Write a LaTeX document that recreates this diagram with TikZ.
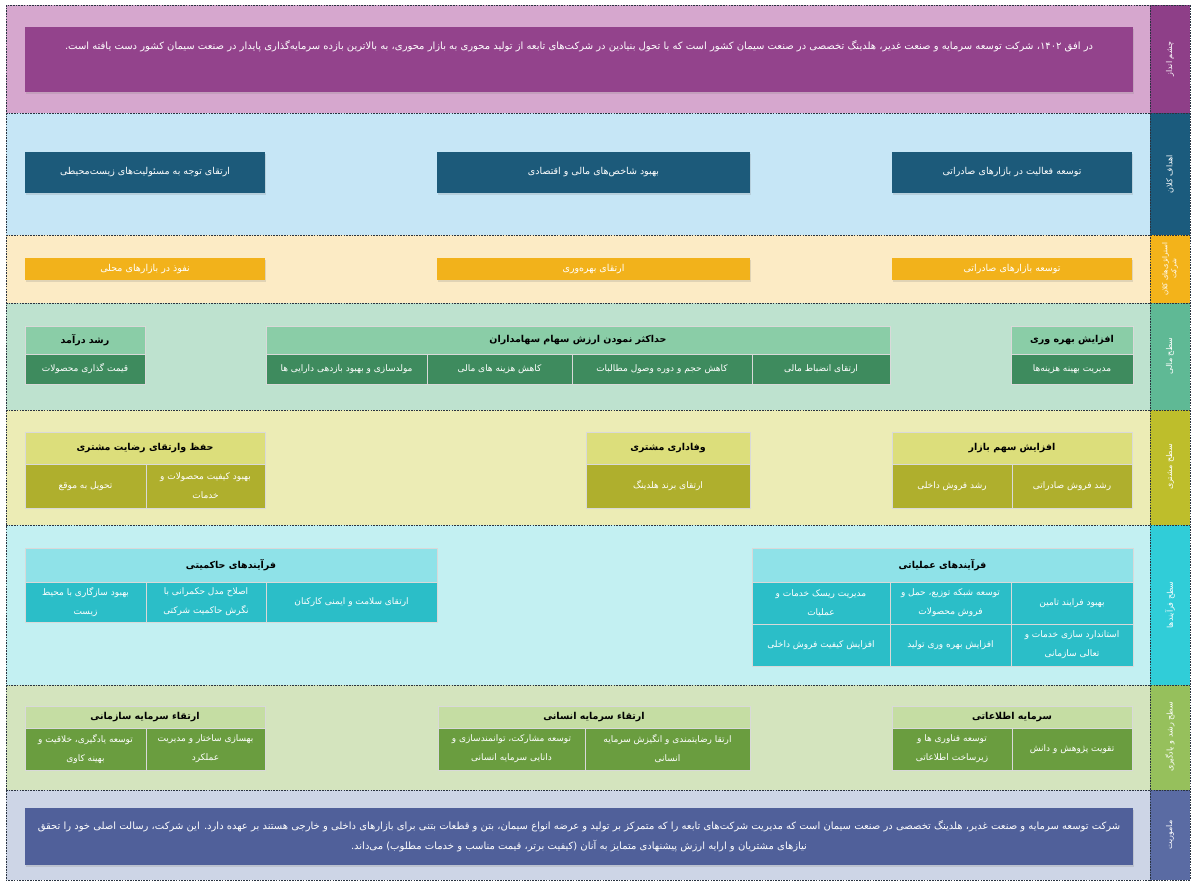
\documentclass[tikz,border=0pt]{standalone}
\usepackage{fontspec}
\usetikzlibrary{shadows}
\TeXXeTstate=1
\newfontfamily\fa[Script=Arabic]{DejaVu Sans}
\newcommand\pr[1]{\beginR #1\endR}
\definecolor{aBg}{HTML}{D6A7CE}\definecolor{aLb}{HTML}{8E3F88}\definecolor{aBx}{HTML}{93438C}
\definecolor{bBg}{HTML}{C6E6F6}\definecolor{bLb}{HTML}{1B5B7D}\definecolor{bBx}{HTML}{1C5A7A}
\definecolor{cBg}{HTML}{FCEBC5}\definecolor{cLb}{HTML}{F3B31A}\definecolor{cBx}{HTML}{F2B21B}
\definecolor{dBg}{HTML}{BEE2CF}\definecolor{dLb}{HTML}{5FB995}\definecolor{dHd}{HTML}{8ACDA7}\definecolor{dBx}{HTML}{3E8B5E}
\definecolor{eBg}{HTML}{ECECB5}\definecolor{eLb}{HTML}{BEBE2B}\definecolor{eHd}{HTML}{DCDE7B}\definecolor{eBx}{HTML}{AFAF2D}
\definecolor{fBg}{HTML}{C3F0F2}\definecolor{fLb}{HTML}{30CDD8}\definecolor{fHd}{HTML}{8FE2E8}\definecolor{fBx}{HTML}{2BBEC8}
\definecolor{gBg}{HTML}{D4E4BE}\definecolor{gLb}{HTML}{96C05C}\definecolor{gHd}{HTML}{C5DDA3}\definecolor{gBx}{HTML}{6A9D3F}
\definecolor{hBg}{HTML}{CDD5E6}\definecolor{hLb}{HTML}{5A6BA3}\definecolor{hBx}{HTML}{50609A}
\definecolor{dashc}{HTML}{2A3340}
\newcommand\bx[7]{\node[#6, minimum width={(#4-#2)*1pt}, minimum height={(#5-#3)*1pt}] (#1) at ({(#2+#4)/2},{(#3+#5)/2}) {#7};}
\begin{document}
\begin{tikzpicture}[x=1pt,y=-1pt,
  softshadow/.style={drop shadow={opacity=0.22, shadow xshift=0.8pt, shadow yshift=-1.6pt}},
  cellbox/.style={draw=white!85!black, line width=0.6pt, inner sep=1pt, align=center, text=white,
    font=\fa\fontsize{9}{19}\selectfont},
  goalbox/.style={cellbox, draw=none, softshadow, font=\fa\fontsize{9.5}{19}\selectfont},
  hdrbox/.style={cellbox, text=black, font=\fa\bfseries\fontsize{9.5}{19}\selectfont},
  bigbox/.style={draw=none, softshadow, inner sep=2pt, align=center, text=white, font=\fa\fontsize{10}{20}\selectfont},
  lbl/.style={rotate=90, text=white, align=center, font=\fa\fontsize{8}{10}\selectfont, inner sep=0pt},
  dsh/.style={draw=dashc, line width=0.7pt, dash pattern=on 1.6pt off 1.1pt}]
\useasboundingbox (0,0) rectangle (1193,884);
% bands
\fill[aBg] (6,5) rectangle (1150,113);   \fill[aLb] (1150,5) rectangle (1190,113);
\fill[bBg] (6,113) rectangle (1150,235); \fill[bLb] (1150,113) rectangle (1190,235);
\fill[cBg] (6,235) rectangle (1150,303); \fill[cLb] (1150,235) rectangle (1190,303);
\fill[dBg] (6,303) rectangle (1150,410); \fill[dLb] (1150,303) rectangle (1190,410);
\fill[eBg] (6,410) rectangle (1150,525); \fill[eLb] (1150,410) rectangle (1190,525);
\fill[fBg] (6,525) rectangle (1150,685); \fill[fLb] (1150,525) rectangle (1190,685);
\fill[gBg] (6,685) rectangle (1150,790); \fill[gLb] (1150,685) rectangle (1190,790);
\fill[hBg] (6,790) rectangle (1150,880); \fill[hLb] (1150,790) rectangle (1190,880);
% dashed lines
\foreach \yy in {113,235,303,410,525,685,790} \draw[dsh] (6,\yy) -- (1190,\yy);
\draw[dsh] (6,5) rectangle (1190,880);
\draw[dsh] (1150,5) -- (1150,880);
% side labels
\node[lbl] (L1) at (1170,59) {\pr{چشم انداز}};
\node[lbl] (L2) at (1170,174) {\pr{اهداف کلان}};
\node[lbl, font=\fa\fontsize{7}{9}\selectfont] (L3) at (1170,269) {\pr{استراتژی‌های کلان}\\\pr{شرکت}};
\node[lbl] (L4) at (1170,356) {\pr{سطح مالی}};
\node[lbl] (L5) at (1170,467) {\pr{سطح مشتری}};
\node[lbl] (L6) at (1170,605) {\pr{سطح فرآیندها}};
\node[lbl] (L7) at (1170,737) {\pr{سطح رشد و یادگیری}};
\node[lbl] (L8) at (1170,835) {\pr{ماموریت}};
% vision (text sits in the upper part of the box)
\node[bigbox, fill=aBx, minimum width=1108pt, inner ysep=0pt, text height=22pt, text depth=43pt, anchor=north] (vis) at (579,27) {\pr{در افق ۱۴۰۲، شرکت توسعه سرمایه و صنعت غدیر، هلدینگ تخصصی در صنعت سیمان کشور است که با تحول بنیادین در شرکت‌های تابعه از تولید محوری به بازار محوری، به بالاترین بازده سرمایه‌گذاری پایدار در صنعت سیمان کشور دست یافته است.}};
% macro goals
\bx{g1}{892}{152}{1132}{193}{goalbox,fill=bBx}{\pr{توسعه فعالیت در بازارهای صادراتی}}
\bx{g2}{437}{152}{750}{193}{goalbox,fill=bBx}{\pr{بهبود شاخص‌های مالی و اقتصادی}}
\bx{g3}{25}{152}{265}{193}{goalbox,fill=bBx}{\pr{ارتقای توجه به مسئولیت‌های زیست‌محیطی}}
% strategies
\bx{s1}{892}{258}{1132}{280}{goalbox,fill=cBx}{\pr{توسعه بازارهای صادراتی}}
\bx{s2}{437}{258}{750}{280}{goalbox,fill=cBx}{\pr{ارتقای بهره‌وری}}
\bx{s3}{25}{258}{265}{280}{goalbox,fill=cBx}{\pr{نفوذ در بازارهای محلی}}
% financial
\bx{f1h}{1011}{326}{1133}{354}{hdrbox,fill=dHd}{\pr{افزایش بهره وری}}
\bx{f1a}{1011}{354}{1133}{384}{cellbox,fill=dBx}{\pr{مدیریت بهینه هزینه‌ها}}
\bx{f2h}{266}{326}{890}{354}{hdrbox,fill=dHd}{\pr{حداکثر نمودن ارزش سهام سهامداران}}
\bx{f2a}{752}{354}{890}{384}{cellbox,fill=dBx}{\pr{ارتقای انضباط مالی}}
\bx{f2b}{572}{354}{752}{384}{cellbox,fill=dBx}{\pr{کاهش حجم و دوره وصول مطالبات}}
\bx{f2c}{427}{354}{572}{384}{cellbox,fill=dBx}{\pr{کاهش هزینه های مالی}}
\bx{f2d}{266}{354}{427}{384}{cellbox,fill=dBx}{\pr{مولدسازی و بهبود بازدهی دارایی ها}}
\bx{f3h}{25}{326}{145}{354}{hdrbox,fill=dHd}{\pr{رشد درآمد}}
\bx{f3a}{25}{354}{145}{384}{cellbox,fill=dBx}{\pr{قیمت گذاری محصولات}}
% customer
\bx{c1h}{892}{432}{1132}{464}{hdrbox,fill=eHd}{\pr{افزایش سهم بازار}}
\bx{c1a}{1012}{464}{1132}{508}{cellbox,fill=eBx}{\pr{رشد فروش صادراتی}}
\bx{c1b}{892}{464}{1012}{508}{cellbox,fill=eBx}{\pr{رشد فروش داخلی}}
\bx{c2h}{586}{432}{750}{464}{hdrbox,fill=eHd}{\pr{وفاداری مشتری}}
\bx{c2a}{586}{464}{750}{508}{cellbox,fill=eBx}{\pr{ارتقای برند هلدینگ}}
\bx{c3h}{25}{432}{265}{464}{hdrbox,fill=eHd}{\pr{حفظ وارتقای رضایت مشتری}}
\bx{c3a}{146}{464}{265}{508}{cellbox,fill=eBx}{\pr{بهبود کیفیت محصولات و}\\\pr{خدمات}}
\bx{c3b}{25}{464}{146}{508}{cellbox,fill=eBx}{\pr{تحویل به موقع}}
% processes
\bx{p1h}{752}{548}{1133}{582}{hdrbox,fill=fHd}{\pr{فرآیندهای عملیاتی}}
\bx{p1a}{1011}{582}{1133}{624}{cellbox,fill=fBx}{\pr{بهبود فرایند تامین}}
\bx{p1b}{890}{582}{1011}{624}{cellbox,fill=fBx}{\pr{توسعه شبکه توزیع، حمل و}\\\pr{فروش محصولات}}
\bx{p1c}{752}{582}{890}{624}{cellbox,fill=fBx}{\pr{مدیریت ریسک خدمات و}\\\pr{عملیات}}
\bx{p1d}{1011}{624}{1133}{666}{cellbox,fill=fBx}{\pr{استاندارد سازی خدمات و}\\\pr{تعالی سازمانی}}
\bx{p1e}{890}{624}{1011}{666}{cellbox,fill=fBx}{\pr{افزایش بهره وری تولید}}
\bx{p1f}{752}{624}{890}{666}{cellbox,fill=fBx}{\pr{افزایش کیفیت فروش داخلی}}
\bx{p2h}{25}{548}{437}{582}{hdrbox,fill=fHd}{\pr{فرآیندهای حاکمیتی}}
\bx{p2a}{266}{582}{437}{622}{cellbox,fill=fBx}{\pr{ارتقای سلامت و ایمنی کارکنان}}
\bx{p2b}{146}{582}{266}{622}{cellbox,fill=fBx}{\pr{اصلاح مدل حکمرانی با}\\\pr{نگرش حاکمیت شرکتی}}
\bx{p2c}{25}{582}{146}{622}{cellbox,fill=fBx}{\pr{بهبود سازگاری با محیط}\\\pr{زیست}}
% learning
\bx{l1h}{892}{706}{1132}{728}{hdrbox,fill=gHd}{\pr{سرمایه اطلاعاتی}}
\bx{l1a}{1012}{728}{1132}{770}{cellbox,fill=gBx}{\pr{تقویت پژوهش و دانش}}
\bx{l1b}{892}{728}{1012}{770}{cellbox,fill=gBx}{\pr{توسعه فناوری ها و}\\\pr{زیرساخت اطلاعاتی}}
\bx{l2h}{438}{706}{750}{728}{hdrbox,fill=gHd}{\pr{ارتقاء سرمایه انسانی}}
\bx{l2a}{585}{728}{750}{770}{cellbox,fill=gBx}{\pr{ارتقا رضایتمندی و انگیزش سرمایه}\\\pr{انسانی}}
\bx{l2b}{438}{728}{585}{770}{cellbox,fill=gBx}{\pr{توسعه مشارکت، توانمندسازی و}\\\pr{دانایی سرمایه انسانی}}
\bx{l3h}{25}{706}{265}{728}{hdrbox,fill=gHd}{\pr{ارتقاء سرمایه سازمانی}}
\bx{l3a}{146}{728}{265}{770}{cellbox,fill=gBx}{\pr{بهسازی ساختار و مدیریت}\\\pr{عملکرد}}
\bx{l3b}{25}{728}{146}{770}{cellbox,fill=gBx}{\pr{توسعه یادگیری، خلاقیت و}\\\pr{بهینه کاوی}}
% mission
\bx{mis}{25}{808}{1133}{865}{bigbox,fill=hBx}{\pr{شرکت توسعه سرمایه و صنعت غدیر، هلدینگ تخصصی در صنعت سیمان است که مدیریت شرکت‌های تابعه را که متمرکز بر تولید و عرضه انواع سیمان، بتن و قطعات بتنی برای بازارهای داخلی و خارجی هستند بر عهده دارد. این شرکت، رسالت اصلی خود را تحقق}\\\pr{نیازهای مشتریان و ارایه ارزش پیشنهادی متمایز به آنان (کیفیت برتر، قیمت مناسب و خدمات مطلوب) می‌داند.}}
\end{tikzpicture}
\end{document}
